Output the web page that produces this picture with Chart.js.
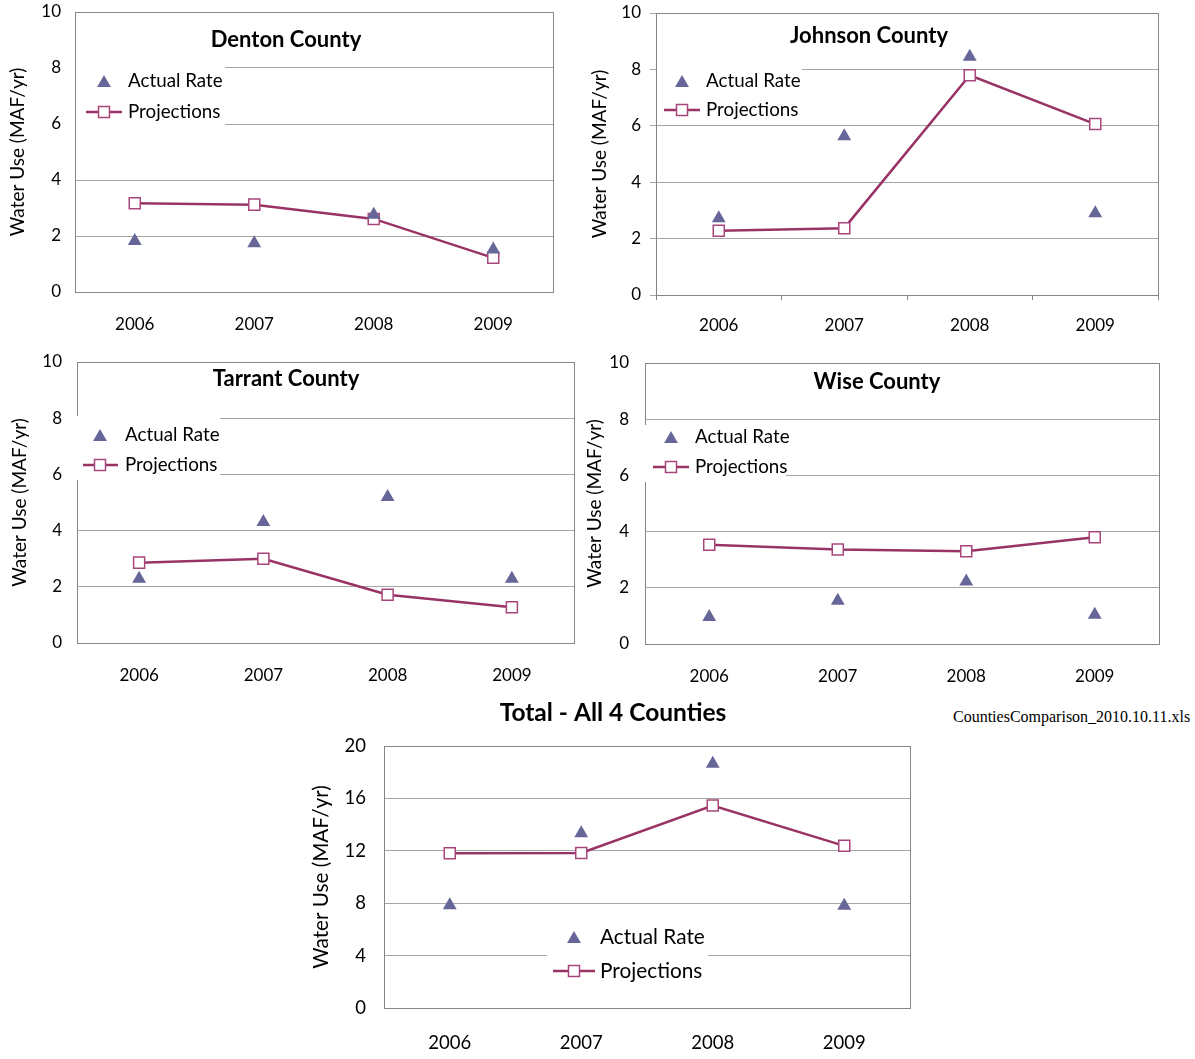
<!DOCTYPE html>
<html><head><meta charset="utf-8">
<script src="https://cdn.jsdelivr.net/npm/chart.js@4.4.1/dist/chart.umd.min.js"></script>
<style>
html,body{margin:0;padding:0;background:#fff;width:1195px;height:1059px;overflow:hidden;}
.c{position:absolute;}
.c canvas{display:block;}
#note{position:absolute;left:953px;top:708px;font-family:'Liberation Serif','Times New Roman',serif;font-size:16px;color:#000;white-space:nowrap;}
</style></head><body>
<div class="c" style="left:0;top:0"><canvas id="denton" width="590" height="345"></canvas></div>
<div class="c" style="left:585px;top:0"><canvas id="johnson" width="610" height="345"></canvas></div>
<div class="c" style="left:0;top:345px"><canvas id="tarrant" width="590" height="350"></canvas></div>
<div class="c" style="left:580px;top:345px"><canvas id="wise" width="615" height="350"></canvas></div>
<div class="c" style="left:300px;top:690px"><canvas id="total" width="630" height="369"></canvas></div>
<div id="note">CountiesComparison_2010.10.11.xls</div>
<script>
// ---- data ----
const years = ['2006', '2007', '2008', '2009'];
const countyTicks = [0, 2, 4, 6, 8, 10];
const totalTicks = [0, 4, 8, 12, 16, 20];
const seriesNames = ['Actual Rate', 'Projections'];
const yAxisTitle = 'Water Use (MAF/yr)';

const dentonActual = [1.82, 1.74, 2.76, 1.52];
const dentonProj = [3.17, 3.12, 2.61, 1.22];
const johnsonActual = [2.72, 5.63, 8.45, 2.9];
const johnsonProj = [2.28, 2.37, 7.79, 6.06];
const tarrantActual = [2.29, 4.31, 5.2, 2.29];
const tarrantProj = [2.86, 3.0, 1.72, 1.27];
const wiseActual = [0.96, 1.54, 2.22, 1.04];
const wiseProj = [3.53, 3.36, 3.3, 3.8];
const totalActual = [7.85, 13.34, 18.65, 7.8];
const totalProj = [11.82, 11.83, 15.45, 12.38];

// ---- style ----
const FONT = "Lato, 'Open Sans', sans-serif";
const TRI = '#666699';
const LINE = '#993366';
const SQ = '#a8457a';
const GRID = '#a6a6a6';
const FRAME = '#858585';

function drawTri(ctx, x, y, r) {
  ctx.beginPath();
  let rad = 0;
  for (let i = 0; i < 3; i++) {
    const px = x + Math.sin(rad) * r, py = y - Math.cos(rad) * r;
    if (i === 0) ctx.moveTo(px, py); else ctx.lineTo(px, py);
    rad += 2 * Math.PI / 3;
  }
  ctx.closePath();
  ctx.fillStyle = TRI;
  ctx.fill();
}

const decor = {
  id: 'decor',
  beforeDatasetsDraw(chart) {
    const o = chart.options.plugins.decor;
    const ctx = chart.ctx, a = chart.chartArea;
    ctx.save();
    ctx.strokeStyle = FRAME; ctx.lineWidth = 1;
    const x0 = Math.round(a.left) + 0.5, y0 = Math.round(a.top) + 0.5;
    const x1 = Math.round(a.right) + 0.5, y1 = Math.round(a.bottom) + 0.5;
    ctx.strokeRect(x0, y0, x1 - x0, y1 - y0);
    const L = o.legend;
    ctx.fillStyle = '#fff';
    ctx.fillRect(L.box[0], L.box[1], L.box[2], L.box[3]);
    drawTri(ctx, L.tri[0], L.tri[1], 8);
    ctx.strokeStyle = LINE; ctx.lineWidth = 2.5;
    ctx.beginPath(); ctx.moveTo(L.line[0], L.y2); ctx.lineTo(L.line[1], L.y2); ctx.stroke();
    const s = 5.5;
    ctx.fillStyle = '#fff'; ctx.fillRect(L.tri[0] - s, L.y2 - s, 2 * s, 2 * s);
    ctx.strokeStyle = SQ; ctx.lineWidth = 1.5; ctx.strokeRect(L.tri[0] - s, L.y2 - s, 2 * s, 2 * s);
    ctx.fillStyle = '#000';
    ctx.font = o.lfs + 'px ' + FONT;
    ctx.textAlign = 'left'; ctx.textBaseline = 'middle';
    ctx.fillText(chart.data.datasets[0].label, L.textX, L.ty1);
    ctx.fillText(chart.data.datasets[1].label, L.textX, L.y2);
    ctx.restore();
  },
  afterDraw(chart) {
    const o = chart.options.plugins.decor;
    const ctx = chart.ctx;
    ctx.save();
    ctx.fillStyle = '#000';
    ctx.font = 'bold ' + o.title.size + 'px ' + FONT;
    ctx.textAlign = 'center'; ctx.textBaseline = 'middle';
    ctx.fillText(o.title.text, o.title.x, o.title.y);
    ctx.restore();
  }
};

function makeChart(id, actual, proj, tickVals, c) {
  return new Chart(document.getElementById(id), {
    type: 'line',
    data: {
      labels: years,
      datasets: [
        { label: seriesNames[0], data: actual, showLine: false, pointStyle: 'triangle',
          pointRadius: 8, pointHoverRadius: 8, pointBackgroundColor: TRI, pointBorderColor: TRI,
          pointBorderWidth: 0, borderColor: TRI, backgroundColor: TRI },
        { label: seriesNames[1], data: proj, borderColor: LINE, borderWidth: 2.5, tension: 0, fill: false,
          pointStyle: 'rect', pointRadius: 7.8, pointHoverRadius: 7.8, pointBackgroundColor: '#fff',
          pointBorderColor: SQ, pointBorderWidth: 1.5 }
      ]
    },
    options: {
      responsive: false, animation: false, devicePixelRatio: 1,
      layout: { padding: c.pad },
      plugins: {
        legend: { display: false }, tooltip: { enabled: false }, title: { display: false },
        decor: { legend: c.legend, title: c.title, lfs: c.lfs }
      },
      scales: {
        x: {
          offset: true,
          grid: { display: !!c.xTicks, drawOnChartArea: false, offset: true, drawTicks: !!c.xTicks, tickLength: 5, color: FRAME },
          border: { display: false },
          ticks: { padding: c.xPad, color: '#000', font: { family: FONT, size: c.fs } },
          afterFit: s => { s.height = c.xH; s.paddingLeft = 0; s.paddingRight = 0; }
        },
        y: {
          min: tickVals[0], max: tickVals[tickVals.length - 1],
          afterBuildTicks: s => { s.ticks = tickVals.map(v => ({ value: v })); },
          ticks: { padding: c.yPad, color: '#000', font: { family: FONT, size: c.fs } },
          grid: { color: GRID, drawTicks: !!c.yTicks, tickLength: 6 },
          border: { display: false },
          title: { display: true, text: yAxisTitle, color: '#000', font: { family: FONT, size: c.tfs },
                   padding: { top: c.titlePad, bottom: 0 } },
          afterFit: s => { s.width = c.yW; s.paddingTop = 0; s.paddingBottom = 0; }
        }
      }
    },
    plugins: [decor]
  });
}

makeChart('denton', dentonActual, dentonProj, countyTicks, {
  pad: { top: 12, right: 37, bottom: 0, left: 0 }, yW: 75, xH: 53, xPad: 22, yPad: 14, titlePad: 6.6, fs: 17, lfs: 18.8, tfs: 19,
  title: { text: 'Denton County', x: 286, y: 40, size: 22 },
  legend: { box: [76, 60, 149, 70], tri: [104, 83], ty1: 81, textX: 128, y2: 112, line: [86, 122] }
});
makeChart('johnson', johnsonActual, johnsonProj, countyTicks, {
  pad: { top: 13, right: 37, bottom: 0, left: 0 }, yW: 71, xH: 50, xPad: 15, yPad: 9, titlePad: 3.6, fs: 17, lfs: 18.8, tfs: 19,
  xTicks: true, yTicks: true,
  title: { text: 'Johnson County', x: 284, y: 36, size: 22 },
  legend: { box: [72, 60, 145, 62], tri: [97, 83], ty1: 81, textX: 121, y2: 110, line: [79, 115] }
});
makeChart('tarrant', tarrantActual, tarrantProj, countyTicks, {
  pad: { top: 17, right: 16, bottom: 0, left: 0 }, yW: 77, xH: 52, xPad: 22, yPad: 15, titlePad: 8.6, fs: 17, lfs: 18.8, tfs: 19,
  title: { text: 'Tarrant County', x: 286, y: 34, size: 22 },
  legend: { box: [74, 71, 146, 64], tri: [100, 92], ty1: 90, textX: 125, y2: 120, line: [83, 118] }
});
makeChart('wise', wiseActual, wiseProj, countyTicks, {
  pad: { top: 18, right: 36, bottom: 0, left: 0 }, yW: 65, xH: 51, xPad: 22, yPad: 16, titlePad: 3.6, fs: 17, lfs: 18.8, tfs: 19,
  title: { text: 'Wise County', x: 297, y: 37, size: 22 },
  legend: { box: [65, 80, 141, 57], tri: [91, 94], ty1: 92, textX: 115, y2: 122, line: [73, 109] }
});
makeChart('total', totalActual, totalProj, totalTicks, {
  pad: { top: 56, right: 20, bottom: 0, left: 0 }, yW: 84, xH: 51, xPad: 24, yPad: 18, titlePad: 8.6, fs: 18.5, lfs: 20.8, tfs: 20.7,
  title: { text: 'Total - All 4 Counties', x: 313, y: 23, size: 24.5 },
  legend: { box: [247, 225, 161, 72], tri: [274, 249], ty1: 247, textX: 300, y2: 281, line: [253, 295] }
});
</script>
</body></html>
